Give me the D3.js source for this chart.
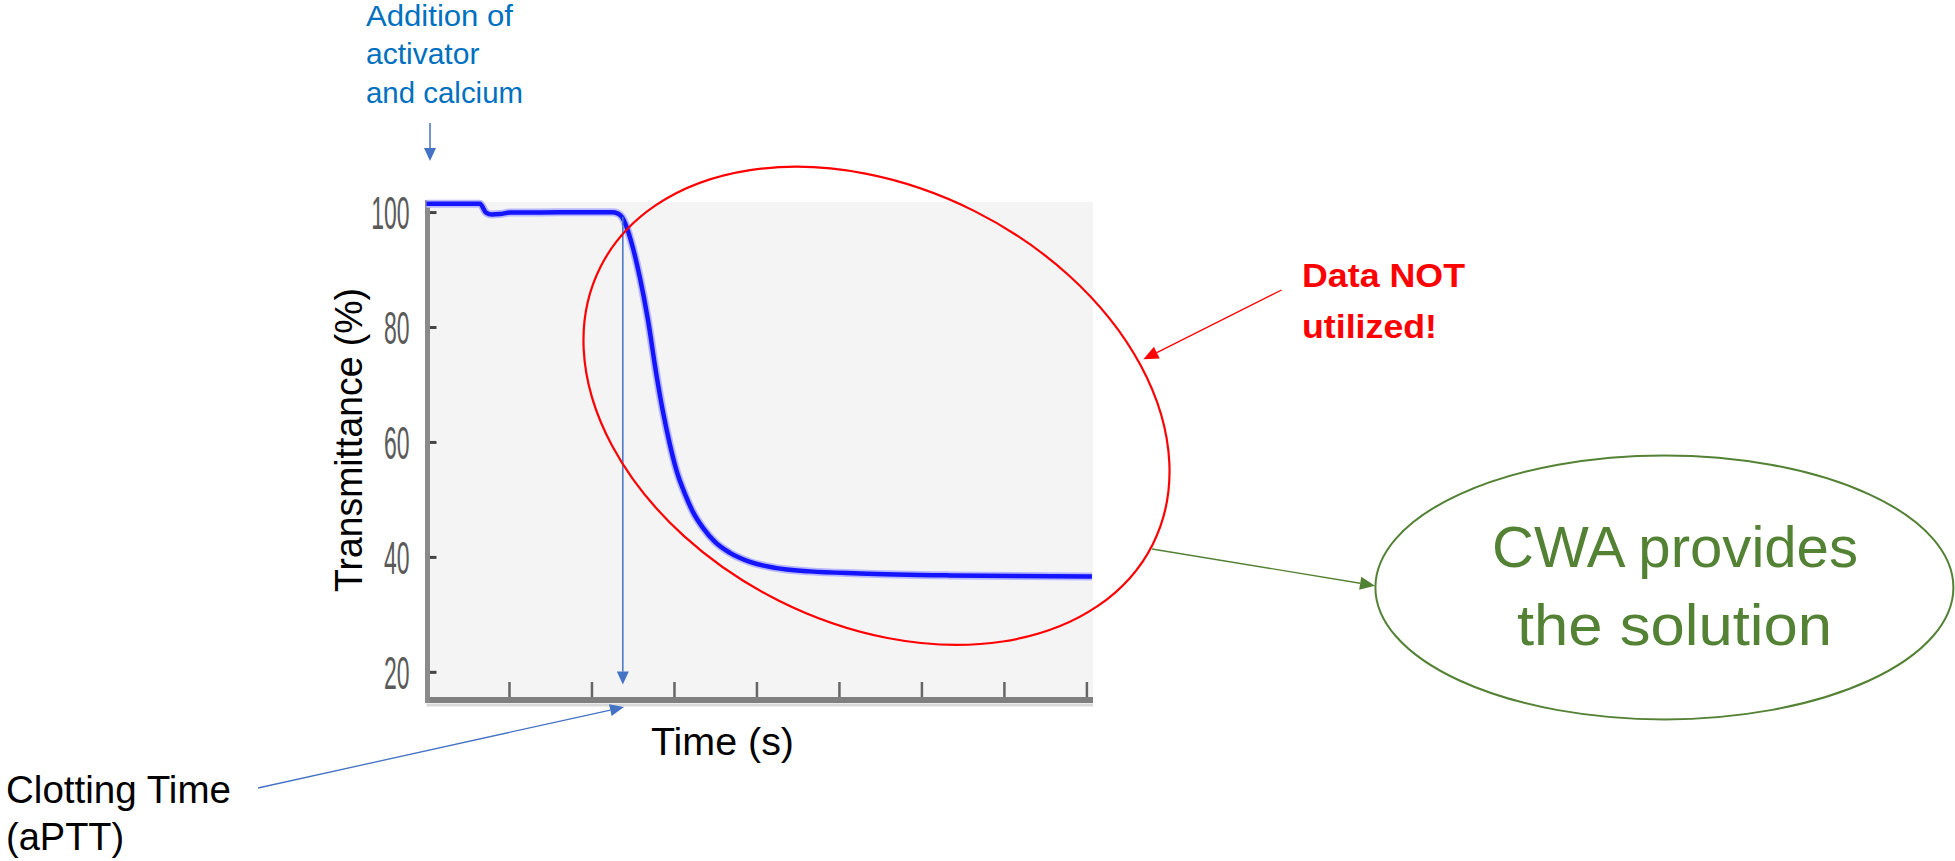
<!DOCTYPE html>
<html>
<head>
<meta charset="utf-8">
<script src="https://cdn.jsdelivr.net/npm/d3@7"></script>
<style>
  html, body { margin: 0; padding: 0; background: #ffffff; }
  svg { display: block; }
  text { font-family: "Liberation Sans", Arial, sans-serif; }
</style>
</head>
<body>
<svg id="chart" width="1955" height="861"></svg>
<script>
// ---- data ----
const timeValues = [0, 0.648, 0.721, 0.794, 0.891, 1.012, 1.618, 2.248, 2.321, 2.370, 2.430, 2.503, 2.588, 2.685, 2.782, 2.867, 2.952, 3.036, 3.133, 3.230, 3.352, 3.497, 3.679, 3.921, 4.224, 4.648, 5.255, 6.345, 8.067];
const transmittance = [101.44, 101.44, 99.91, 99.57, 99.65, 99.91, 99.95, 99.95, 99.74, 99.13, 97.22, 93.74, 88.52, 81.22, 72.17, 65.22, 59.48, 54.78, 50.96, 47.83, 45.04, 42.61, 40.70, 39.13, 38.09, 37.48, 37.13, 36.78, 36.57];
const xTickValues = [1, 2, 3, 4, 5, 6, 7, 8];
const yTickValues = [20, 40, 60, 80, 100];
const yTickLabels = ["20", "40", "60", "80", "100"];
const clottingTime = 2.38;
const xDomain = [0, 8.08];
const yDomain = [15.1, 101.75];

const svg = d3.select("#chart");

// ---- scales ----
const x = d3.scaleLinear().domain(xDomain).range([426.5, 1093]);
const y = d3.scaleLinear().domain(yDomain).range([700, 202]);

// plot background
svg.append("rect")
  .attr("x", x(0)).attr("y", y(yDomain[1]))
  .attr("width", x(xDomain[1]) - x(0)).attr("height", y(yDomain[0]) - y(yDomain[1]))
  .attr("fill", "#f4f4f4");

// x axis ticks (upward, no labels)
const xAxisG = svg.append("g").attr("transform", `translate(0,${y(yDomain[0]) - 2})`)
  .call(d3.axisBottom(x).tickValues(xTickValues).tickSize(-16).tickSizeOuter(0).tickFormat(""));
xAxisG.select(".domain").remove();
xAxisG.selectAll(".tick line").attr("stroke", "#666").attr("stroke-width", 2.5);

// y axis ticks and labels
const yAxisG = svg.append("g").attr("transform", `translate(${x(0) + 1},0)`)
  .call(d3.axisLeft(y).tickValues(yTickValues).tickSize(-9).tickSizeOuter(0)
    .tickFormat((d, i) => yTickLabels[i]));
yAxisG.select(".domain").remove();
yAxisG.selectAll(".tick line").attr("stroke", "#444").attr("stroke-width", 3);
yAxisG.selectAll(".tick text")
  .attr("x", -36).attr("dy", "0.36em")
  .attr("transform", "scale(0.5,1)")
  .attr("fill", "#5a5a5a")
  .style("font-size", "46px")
  .style("font-family", "'Liberation Sans', Arial, sans-serif");

// axis lines
svg.append("line").attr("x1", x(0)).attr("x2", x(xDomain[1]))
  .attr("y1", y(yDomain[0]) + 5).attr("y2", y(yDomain[0]) + 5)
  .attr("stroke", "#d9d9d9").attr("stroke-width", 3);
svg.append("line").attr("x1", x(0) - 1.5).attr("x2", x(xDomain[1]))
  .attr("y1", y(yDomain[0])).attr("y2", y(yDomain[0]))
  .attr("stroke", "#7f7f7f").attr("stroke-width", 6);
svg.append("line").attr("x1", x(0) + 1).attr("x2", x(0) + 1)
  .attr("y1", y(yDomain[1]) - 2).attr("y2", y(yDomain[0]) + 3)
  .attr("stroke", "#8a8a8a").attr("stroke-width", 5);

// curve
const pts = timeValues.map((t, i) => [t, transmittance[i]]);
const line = d3.line().x(d => x(d[0])).y(d => y(d[1])).curve(d3.curveMonotoneX);
svg.append("path").attr("d", line(pts)).attr("fill", "none")
  .attr("stroke", "#b8b8ff").attr("stroke-width", 8).attr("stroke-linejoin", "round");
svg.append("path").attr("d", line(pts)).attr("fill", "none")
  .attr("stroke", "#1414ff").attr("stroke-width", 4.5).attr("stroke-linejoin", "round");

// arrow helper
function arrow(x1, y1, x2, y2, color, w, headLen, headW) {
  const a = Math.atan2(y2 - y1, x2 - x1);
  const bx = x2 - headLen * Math.cos(a), by = y2 - headLen * Math.sin(a);
  svg.append("line").attr("x1", x1).attr("y1", y1).attr("x2", bx).attr("y2", by)
    .attr("stroke", color).attr("stroke-width", w);
  const px = -Math.sin(a) * headW / 2, py = Math.cos(a) * headW / 2;
  svg.append("path")
    .attr("d", `M${x2},${y2}L${bx + px},${by + py}L${bx - px},${by - py}Z`)
    .attr("fill", color);
}

// clotting-time vertical arrow
arrow(x(clottingTime), y(99.2), x(clottingTime), y(17.8), "#4472C4", 1.5, 13, 12);

// red ellipse
svg.append("ellipse").attr("cx", 0).attr("cy", 0).attr("rx", 309).attr("ry", 218)
  .attr("transform", "translate(876.5,405.8) rotate(26.6)")
  .attr("fill", "none").attr("stroke", "#ff0000").attr("stroke-width", 2.2);

// green ellipse
svg.append("ellipse").attr("cx", 1664.4).attr("cy", 587.4).attr("rx", 289).attr("ry", 132)
  .attr("fill", "none").attr("stroke", "#548235").attr("stroke-width", 2);

// annotation arrows
arrow(430, 123, 430, 161, "#4472C4", 1.5, 13, 12);
arrow(258, 788, 624, 707, "#4472C4", 1.3, 14, 12);
arrow(1281.6, 290, 1143.4, 359.3, "#ff0000", 1.3, 15, 13);
arrow(1152, 549, 1375, 585.7, "#548235", 1.3, 15, 13);

// texts
function txt(s, xx, yy, opts) {
  const t = svg.append("text").attr("x", xx).attr("y", yy).text(s)
    .style("font-size", opts.size + "px").attr("fill", opts.color || "#000");
  if (opts.weight) t.style("font-weight", opts.weight);
  if (opts.anchor) t.attr("text-anchor", opts.anchor);
  if (opts.len) t.attr("textLength", opts.len).attr("lengthAdjust", "spacingAndGlyphs");
  return t;
}
txt("Addition of", 366, 26, {size: 30, color: "#0070C0", len: 147});
txt("activator", 366, 64, {size: 30, color: "#0070C0"});
txt("and calcium", 366, 103, {size: 30, color: "#0070C0", len: 157});

txt("Clotting Time", 6, 803, {size: 38, len: 225});
txt("(aPTT)", 6, 850, {size: 38});

txt("Time (s)", 651, 755, {size: 38, len: 143});

svg.append("text").attr("transform", "translate(362,440) rotate(-90)")
  .attr("text-anchor", "middle").text("Transmittance (%)")
  .style("font-size", "38px").attr("fill", "#000")
  .attr("textLength", 304).attr("lengthAdjust", "spacingAndGlyphs");

txt("Data NOT", 1302, 287, {size: 34, color: "#ff0000", weight: "bold", len: 163});
txt("utilized!", 1302, 338, {size: 34, color: "#ff0000", weight: "bold", len: 135});

txt("CWA provides", 1492, 567, {size: 58, color: "#548235", len: 366});
txt("the solution", 1517, 645, {size: 58, color: "#548235", len: 315});
</script>
</body>
</html>
